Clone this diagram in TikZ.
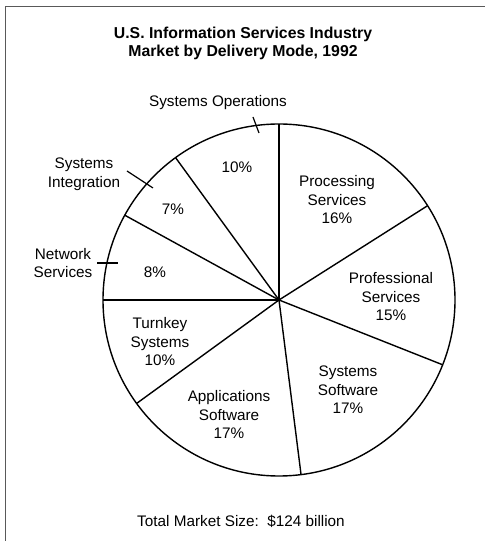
\documentclass[tikz,border=0pt]{standalone}
\usepackage{fontspec}
\setmainfont{Liberation Sans}
\usetikzlibrary{calc}

\tikzset{
  slice/.style={line width=1.4pt},
  tick/.style={line width=1.2pt},
  lbl/.style={align=center, inner sep=0pt, font=\fontsize{15.3}{18.5}\selectfont},
  ttl/.style={align=center, inner sep=0pt, font=\fontsize{15.8}{18}\selectfont\bfseries}
}

\begin{document}
\begin{tikzpicture}[x=1pt, y=1pt]
    % Page size and frame
    \useasboundingbox (0,0) rectangle (485,541);
    \draw[line width=1pt, gray!70!black] (5,0) -- (5,534) -- (485,534);

    % Title
    \node[ttl] (title) at (243,498) {U.S. Information Services Industry\\Market by Delivery Mode, 1992};

    % Draw the pie
    \coordinate (c) at (279,241);
    \def\R{176}
    \draw[slice] (c) circle (\R);
    \foreach \a in {90, 32.4, -21.6, -82.8, -144, 180, 151.2, 126}
        \draw[slice] (c) -- ($(c)+(\a:\R)$);

    % Labels inside the slices
    \node[lbl] (procs) at (337,341) {Processing\\Services\\16\%};
    \node[lbl] (profs) at (391,244) {Professional\\Services\\15\%};
    \node[lbl] (syssw) at (348,151) {Systems\\Software\\17\%};
    \node[lbl] (appsw) at (229,126) {Applications\\Software\\17\%};
    \node[lbl] (turnk) at (160,199) {Turnkey\\Systems\\10\%};
    \node[lbl] (netpc) at (155,269) {8\%};
    \node[lbl] (sipc) at (173,332) {7\%};
    \node[lbl] (sopc) at (237,374) {10\%};

    % Labels outside the pie, with ticks
    \node[lbl] (netw) at (63,278) {Network\\Services};
    \node[lbl] (sysint) at (84,367) {Systems\\Integration};
    \node[lbl] (sysops) at (218,438) {Systems Operations};

    \coordinate (nt1) at (97,278);
    \coordinate (nt2) at (118,278);
    \coordinate (si1) at (127,370);
    \coordinate (si2) at (153,353);
    \coordinate (so1) at (253,424);
    \coordinate (so2) at (259,408);
    \draw[tick] (nt1) -- (nt2);
    \draw[tick] (si1) -- (si2);
    \draw[tick] (so1) -- (so2);

    % Footer
    \node[lbl] (total) at (241,20) {Total Market Size:\ \ \$124 billion};
\end{tikzpicture}
\end{document}
